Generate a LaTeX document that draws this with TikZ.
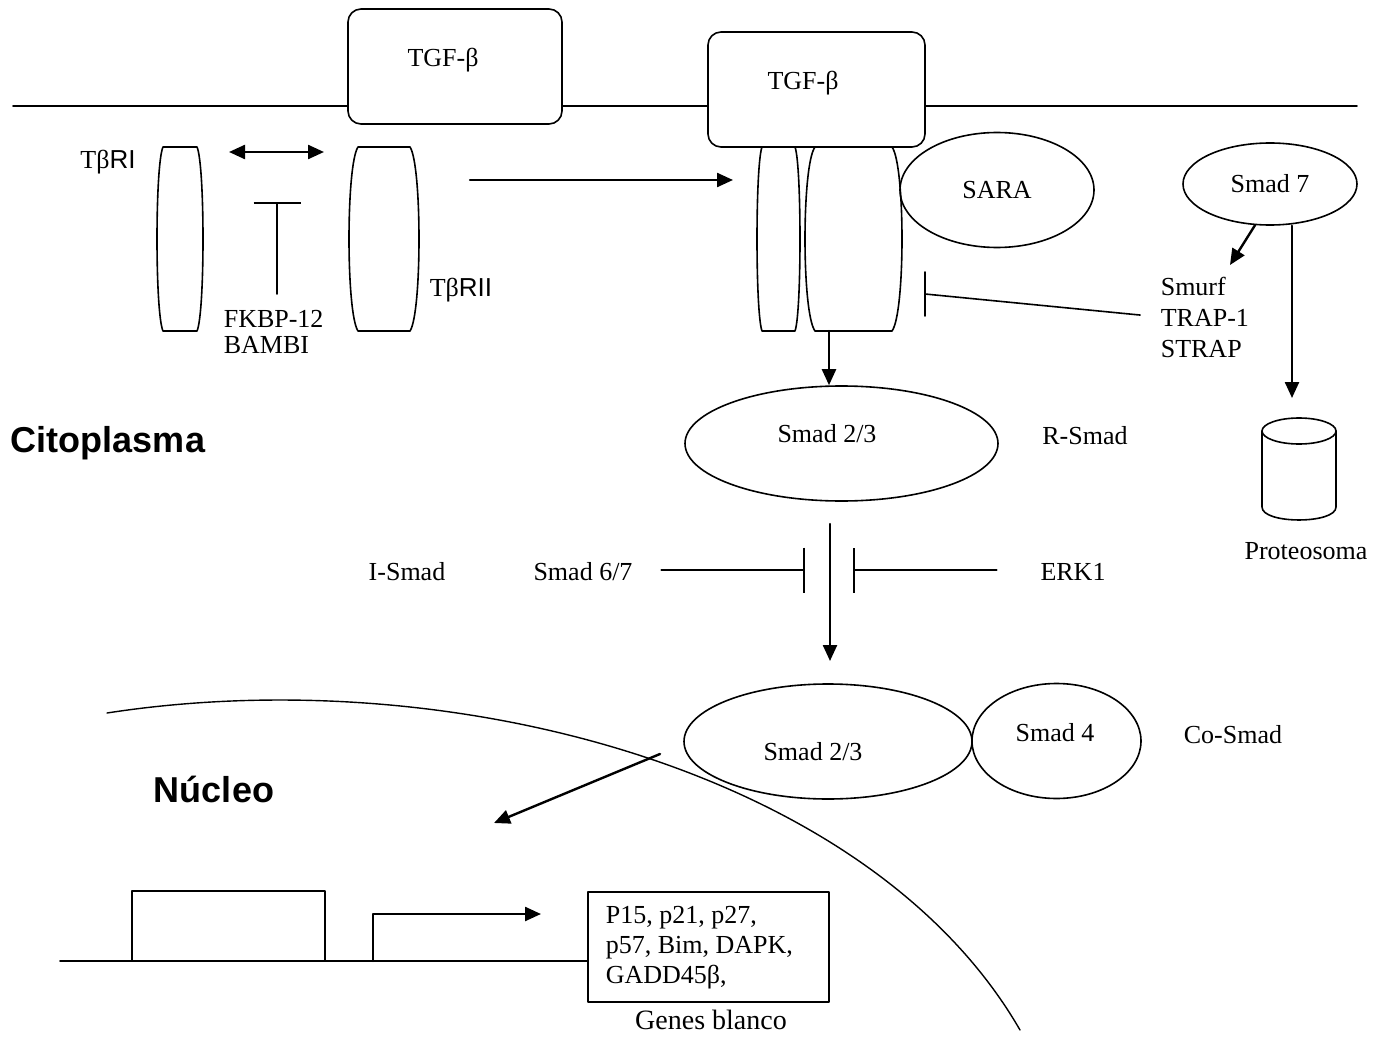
\documentclass[tikz,border=0pt]{standalone}
\usepackage{fontspec}
\setmainfont{Liberation Serif}
\setsansfont{Liberation Sans}
\usetikzlibrary{shapes.geometric,arrows.meta}
% receptor drawn as a barrel: left x, right x, inset of the flat ends
\newcommand{\barrel}[3]{%
  \draw (#1+#3,147) -- (#2-#3,147)
    .. controls (#2+#3/3,165) and (#2+#3/3,313) .. (#2-#3,331)
    -- (#1+#3,331) .. controls (#1-#3/3,313) and (#1-#3/3,165) .. (#1+#3,147) -- cycle;}
\begin{document}
\begin{tikzpicture}[x=0.5pt, y=-0.5pt, line width=0.8pt, line join=round, line cap=round,
    >={Stealth[length=8pt,width=7pt,inset=0pt]},
    txt/.style={font=\fontsize{13}{15}\selectfont, inner sep=0pt},
    region/.style={font=\fontsize{18}{20}\selectfont\sffamily\bfseries, inner sep=0pt},
    ligand/.style={draw, rectangle, rounded corners=6.5pt, fill=white, inner sep=0pt,
      minimum width=#1, minimum height=57.5pt},
    prot/.style={draw, ellipse, inner sep=0pt},
    act/.style={->, line width=1.2pt},
    inh/.style={-{Bar[width=#1]}}]
  \useasboundingbox (0,0) rectangle (1377,1038);
  % membrane
  \coordinate (memL) at (13,106);
  \coordinate (memR) at (1357,106);
  \draw (memL) -- (memR);
  \node[ligand=107pt] (tgfA) at (455,66.5) {};
  \node[ligand=108.5pt] (tgfB) at (816.5,89.5) {};
  \node[txt] (tgfAtxt) at (443,60) {TGF-β};
  \node[txt] (tgfBtxt) at (803,83) {TGF-β};
  % receptors
  \barrel{157}{203}{6}
  \barrel{349}{419}{9}
  \barrel{757}{800}{5}
  \barrel{805}{902}{10}
  \node[txt] (rI) at (108,162) {Tβ\sffamily RI};
  \node[txt] (rII) at (461,290) {Tβ\sffamily RII};
  \coordinate (dL) at (229,152);
  \coordinate (dR) at (324,152);
  \draw[<->, line width=1.2pt] (dL) -- (dR);
  \coordinate (fkTop) at (277,202);
  \coordinate (fkBot) at (277,294);
  \draw[inh=23.5pt] (fkBot) -- (fkTop);
  \node[txt, anchor=west, align=left, font=\fontsize{13}{13}\selectfont] (fkbp) at (223,332) {FKBP-12\\BAMBI};
  \coordinate (actS) at (470,180);
  \coordinate (actE) at (733,180);
  \draw[act] (actS) -- (actE);
  % SARA, Smad 7 and its targets
  \node[prot, minimum width=97pt, minimum height=57.5pt, txt] (sara) at (997,190) {SARA};
  \node[prot, minimum width=87pt, minimum height=41pt, txt] (smad7) at (1270,184) {Smad 7};
  \node[txt, anchor=west, align=left, font=\fontsize{13}{15.5}\selectfont] (smurf) at (1160,317) {Smurf\\TRAP-1\\STRAP};
  \coordinate (smurfIn) at (1230,265);
  \draw[act] (smad7.-110) -- (smurfIn);
  \coordinate (inhE) at (925,294);
  \draw[shorten <=10pt] (smurf.west) -- (inhE);
  \draw (inhE) ++(0,-22) -- ++(0,44);
  \coordinate (protIn) at (1292,398);
  \draw[act] (smad7.south -| protIn) -- (protIn);
  % proteosome
  \draw (1299,431) ellipse[x radius=37, y radius=13];
  \draw (1262,431) -- (1262,507) .. controls (1262,524.3) and (1336,524.3) .. (1336,507) -- (1336,431);
  \node[txt] (prot) at (1306,551) {Proteosoma};
  % R-Smad
  \coordinate (cxOut) at (829,331);
  \node[prot, minimum width=156.5pt, minimum height=57.5pt] (rsmad) at (841.5,443.5) {};
  \node[txt] (rsmadtxt) at (827,434) {Smad 2/3};
  \node[txt] (rlab) at (1085,436) {R-Smad};
  \draw[act] (cxOut) -- (cxOut |- rsmad.north);
  \node[region] (cito) at (108,443) {Citoplasma};
  % inhibitors
  \coordinate (midS) at (830,524);
  \coordinate (midE) at (830,661);
  \draw[act] (midS) -- (midE);
  \node[txt] (ilab) at (407,572) {I-Smad};
  \node[txt] (smad67) at (583,572) {Smad 6/7};
  \node[txt] (erk) at (1073,572) {ERK1};
  \coordinate (barL) at (805,570);
  \coordinate (barR) at (853,570);
  \draw[inh=22.5pt, shorten <=14pt] (smad67.east |- barL) -- (barL);
  \draw[inh=22.5pt, shorten <=21.5pt] (erk.west |- barR) -- (barR);
  % Smad complex
  \node[prot, minimum width=144pt, minimum height=57.5pt] (csmad) at (828,741.5) {};
  \node[txt] (csmadtxt) at (813,752) {Smad 2/3};
  \node[prot, minimum width=84.5pt, minimum height=57.5pt] (smad4) at (1056.5,741) {};
  \node[txt] (smad4txt) at (1055,733) {Smad 4};
  \node[txt] (colab) at (1233,735) {Co-Smad};
  % nucleus
  \draw[line width=0.7pt] (107,713) .. controls (450,660) and (870,770) .. (1020,1030);
  \node[region] (nuc) at (214,789) {Núcleo};
  \coordinate (impS) at (660,754);
  \coordinate (impE) at (494,823);
  \draw[act] (impS) -- (impE);
  % target genes
  \node[draw, minimum width=96.5pt, minimum height=35pt, inner sep=0pt] (prom) at (228.5,926) {};
  \node[draw, minimum width=120.5pt, minimum height=55pt, inner sep=0pt] (genes) at (708.5,947) {};
  \node[txt, anchor=west, align=left] (genestxt) at (605,948) {P15, p21, p27,\\p57, Bim, DAPK,\\GADD45β,};
  \node[txt, font=\fontsize{14}{16}\selectfont] (blanco) at (711,1020) {Genes blanco};
  \coordinate (dnaL) at (60,961);
  \draw (dnaL) -- (dnaL -| genes.west);
  \coordinate (tss) at (373,961);
  \coordinate (tssE) at (541,914);
  \draw[act] (tss) |- (tssE);
\end{tikzpicture}
\end{document}
